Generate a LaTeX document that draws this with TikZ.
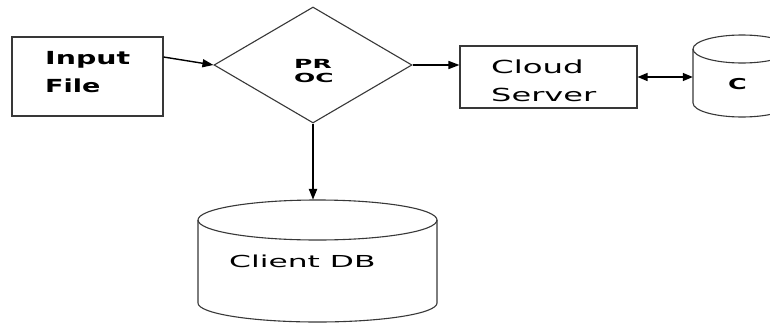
\documentclass[tikz,border=0pt]{standalone}
\usepackage{fontspec}
\usetikzlibrary{arrows.meta,shapes.geometric}
\newfontfamily\dv{DejaVu Sans}
\begin{document}
\begin{tikzpicture}[x=1pt,y=-1pt,
  shapeline/.style={draw=black!78,line width=1.1pt},
  boxnode/.style={shapeline,rectangle,inner sep=0pt},
  conn/.style={draw=black,line width=1.4pt,-{Triangle[length=11pt,width=8pt]}},
  txt/.style={inner sep=0pt,text=black,font=\dv},
  hole/.style={draw=none,rectangle,inner sep=0pt}]
\useasboundingbox (0,0) rectangle (770,324);
\clip (0,0) rectangle (770,324);
\fill[white] (0,0) rectangle (770,324);

% Input File box
\node[boxnode,minimum width=151pt,minimum height=79pt] (inbox) at (87.5,76.5) {};
\node[txt,anchor=base west] (inT1) at (45,64) {\fontsize{18}{20}\selectfont\bfseries\scalebox{1.58}[1]{Input}};
\node[txt,anchor=base west] (inT2) at (45,92) {\fontsize{18}{20}\selectfont\bfseries\scalebox{1.5}[1]{File}};

% PROC diamond
\node[shapeline,diamond,inner sep=0pt,minimum width=198pt,minimum height=116pt] (proc) at (313,65) {};
\node[txt,anchor=base] (prT1) at (313,68) {\fontsize{12.5}{14}\selectfont\bfseries\scalebox{2.0}[1]{PR}};
\node[txt,anchor=base] (prT2) at (314,82) {\fontsize{12.5}{14}\selectfont\bfseries\scalebox{2.0}[1]{OC}};

% Cloud Server box
\node[boxnode,minimum width=177pt,minimum height=62pt] (cloud) at (548.5,77) {};
\node[txt,anchor=base west] (clT1) at (491,73) {\fontsize{18}{20}\selectfont\scalebox{1.8}[1]{Cloud}};
\node[txt,anchor=base west] (clT2) at (491,101) {\fontsize{18}{20}\selectfont\scalebox{1.78}[1]{Server}};

% C cylinder
\draw[shapeline] (693,49) arc[start angle=180,end angle=540,x radius=49,y radius=14];
\draw[shapeline] (693,49) -- (693,103) arc[start angle=180,end angle=0,x radius=49,y radius=14] -- (791,49);
\node[hole,minimum width=98pt,minimum height=82pt] (ccyl) at (742,76) {};
\node[txt,anchor=base] (cT) at (737.5,89) {\fontsize{15}{17}\selectfont\bfseries\scalebox{1.7}[1]{C}};

% Client DB cylinder
\draw[shapeline] (198,220) arc[start angle=180,end angle=540,x radius=119.5,y radius=20];
\draw[shapeline] (198,220) -- (198,303) arc[start angle=180,end angle=0,x radius=119.5,y radius=19] -- (437,220);
\node[hole,minimum width=239pt,minimum height=122pt] (db) at (317.5,261) {};
\node[txt,anchor=base west] (dbT) at (229,267) {\fontsize{16.5}{18}\selectfont\scalebox{1.9}[1]{Client DB}};

% connectors
\draw[conn] (inbox.east |- 0,57) -- (proc.west);
\draw[conn] (proc.east) -- (proc.east -| cloud.west);
\draw[draw=black,line width=1.4pt,{Triangle[length=10pt,width=8pt]}-{Triangle[length=10pt,width=8pt]}] (cloud.east |- 0,77) -- (ccyl.west |- 0,77);
\draw[conn,line width=2.2pt] (proc.south) -- (proc.south |- db.north);
\end{tikzpicture}
\end{document}
